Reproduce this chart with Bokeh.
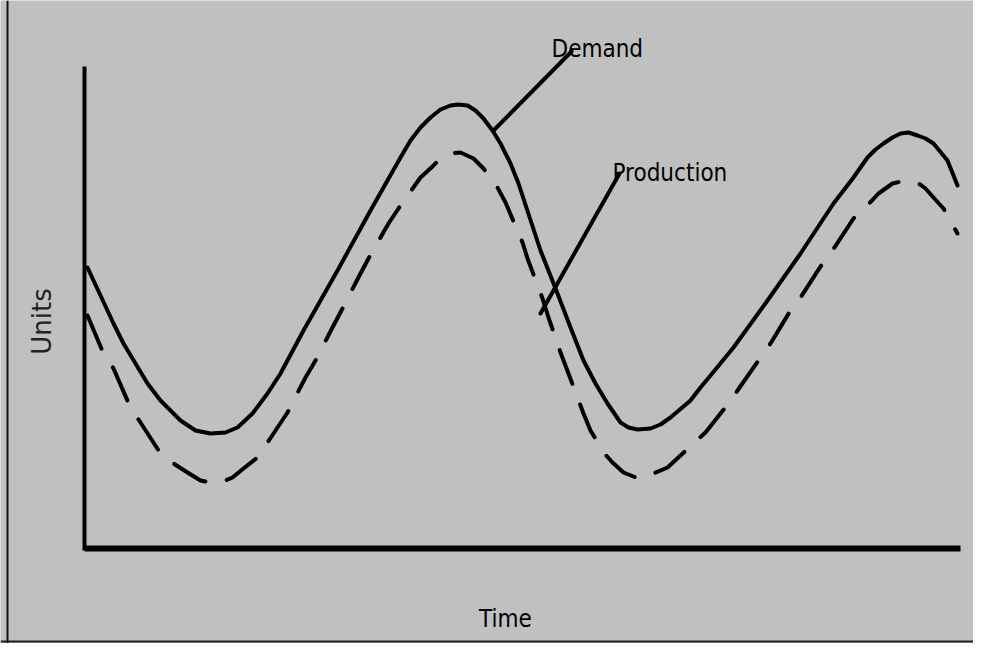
import math
from bokeh.plotting import figure
from bokeh.models import Range1d, Label, Span
from bokeh.embed import file_html
from bokeh.resources import INLINE

# ---- data (time / units in drawing units) ----
demand_time = [3, 16, 29, 39, 63, 76, 96, 111, 126, 141, 153, 168, 183, 196, 219, 253, 286, 316,
               326, 336, 346, 356, 366, 374, 383, 391, 399, 408, 416, 426, 434, 456, 473, 486,
               499, 511, 523, 536, 544, 553, 566, 576, 586, 606, 616, 626, 649, 683, 716, 749, 769,
               783, 791, 799, 808, 816, 824, 833, 841, 849, 863, 873]
demand_units = [281, 253, 225, 205, 165, 148, 128, 118, 115, 116, 121, 135, 155, 175, 218, 278, 338, 391,
                408, 421, 431, 439, 443, 444, 443, 438, 430, 418, 405, 385, 365, 298, 255, 221,
                188, 165, 145, 126, 121, 119, 120, 124, 131, 148, 161, 173, 201, 248, 295, 345, 371,
                391, 399, 405, 411, 415, 416, 413, 410, 405, 388, 363]

production_time = [3, 19, 29, 46, 56, 76, 89, 103, 116, 126, 136, 148, 159, 173, 191, 203, 221, 231,
                   249, 258, 276, 284, 304, 314, 336, 348, 356, 366, 376, 389, 399, 413, 421, 438,
                   443, 458, 464, 476, 484, 499, 506, 519, 528, 539, 554, 569, 583, 596, 609, 621,
                   644, 653, 676, 686, 706, 716, 738, 748, 769, 781, 794, 808, 821, 833, 841, 849,
                   859, 873]
production_units = [233, 195, 180, 141, 126, 95, 85, 76, 68, 66, 66, 71, 80, 91, 118, 136, 171, 188,
                    223, 240, 275, 290, 325, 340, 371, 382, 390, 395, 396, 390, 380, 361, 346, 306,
                    290, 250, 231, 196, 175, 135, 118, 96, 86, 76, 70, 75, 81, 93, 105, 116,
                    145, 158, 191, 205, 238, 251, 285, 298, 330, 341, 355, 365, 368, 366, 360, 351,
                    340, 315]

# axis extents (time axis length, units axis height)
axis_time_end = 876
axis_units_end = 482

# leader lines: [curve point, label point]
demand_leader_time = [409, 487]
demand_leader_units = [418, 497]
production_leader_time = [456, 535]
production_leader_units = [235, 375]

labels_text = ["Demand", "Production", "Time", "Units"]

# ---- figure ----
BG = "#c0c0c0"
W, H = 973, 643
p = figure(width=W, height=H, output_backend="svg", toolbar_location=None,
           x_range=Range1d(-84, 889), y_range=Range1d(-95, 548),
           min_border=0, min_border_left=0, min_border_right=0,
           min_border_top=0, min_border_bottom=0)
p.axis.visible = False
p.grid.visible = False
p.background_fill_color = BG
p.border_fill_color = BG
p.outline_line_color = None

# frame borders (left and bottom, as in the picture)
p.add_layout(Span(location=-77, dimension="height", line_color="#111111", line_width=2))
p.add_layout(Span(location=-93, dimension="width", line_color="#222222", line_width=2))

# axes drawn as thick lines
p.line([0, 0], [-2, axis_units_end], line_color="black", line_width=4)
p.line([0, axis_time_end], [0, 0], line_color="black", line_width=6)

# curves
p.line(demand_time, demand_units, line_color="black", line_width=4,
       line_join="round", line_cap="round")
p.line(production_time, production_units, line_color="black", line_width=4,
       line_dash="36 22", line_join="round", line_cap="round")

# leader lines
p.line(demand_leader_time, demand_leader_units, line_color="black", line_width=4, line_cap="round")
p.line(production_leader_time, production_leader_units, line_color="black", line_width=4, line_cap="round")

FONT = "DejaVu Sans Condensed, Liberation Sans, sans-serif"
p.add_layout(Label(x=467, y=500, text=labels_text[0], text_font=FONT,
                   text_font_size="24px", text_color="black", text_baseline="alphabetic"))
p.add_layout(Label(x=528, y=376, text=labels_text[1], text_font=FONT,
                   text_font_size="24px", text_color="black", text_baseline="alphabetic"))
p.add_layout(Label(x=421, y=-70, text=labels_text[2], text_font=FONT,
                   text_font_size="24px", text_color="black", text_baseline="alphabetic",
                   text_align="center"))
p.add_layout(Label(x=-43, y=227, text=labels_text[3], text_font="DejaVu Sans",
                   text_font_size="26px", text_color="#222222", text_baseline="middle",
                   text_align="center", angle=math.pi / 2))

open("out.html", "w").write(file_html(p, INLINE))
